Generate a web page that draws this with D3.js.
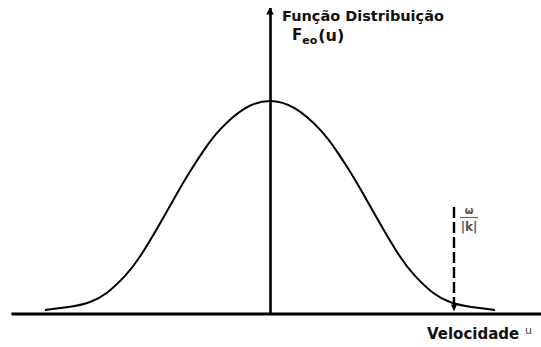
<!DOCTYPE html>
<html>
<head>
<meta charset="utf-8">
<script src="https://cdn.jsdelivr.net/npm/d3@7"></script>
<style>
  html, body { margin: 0; padding: 0; background: #fff; }
  svg { display: block; }
  text { font-family: "DejaVu Sans", sans-serif; }
</style>
</head>
<body>
<svg id="chart" width="541" height="347"></svg>
<script>
// Equilibrium velocity distribution F_eo(u): velocity u (arbitrary units) and F (normalised to peak = 1)
const velocity = [-2.25, -1.97, -1.80, -1.63, -1.45, -1.30, -1.10, -0.95, -0.80, -0.66, -0.50, -0.25, 0,
                  0.25, 0.50, 0.66, 0.80, 0.95, 1.10, 1.30, 1.45, 1.63, 1.80, 1.97, 2.25];
const density  = [0.016, 0.034, 0.054, 0.098, 0.177, 0.268, 0.424, 0.548, 0.668, 0.769, 0.865, 0.965, 1.000,
                  0.965, 0.865, 0.769, 0.668, 0.548, 0.424, 0.268, 0.177, 0.098, 0.054, 0.034, 0.016];
// Phase velocity ω/|k| marked on the velocity axis
const phaseVelocity = 1.84;
// Axis titles
const yTitle = "Função Distribuição";
const xTitle = "Velocidade";

const svg = d3.select("#chart");

const x = d3.scaleLinear().domain([-2.59, 2.71]).range([11, 541]);
const y = d3.scaleLinear().domain([0, 1.44]).range([313.5, 7.5]);

// Horizontal (velocity) axis
const xAxis = svg.append("g")
  .attr("transform", `translate(0,${y(0)})`)
  .call(d3.axisBottom(x).ticks(0).tickSizeOuter(0));
xAxis.select(".domain").attr("stroke", "#000").attr("stroke-width", 3);

// Vertical (distribution) axis through u = 0, with arrow at the top
const yAxis = svg.append("g")
  .attr("transform", `translate(${x(0)},0)`)
  .call(d3.axisLeft(y).ticks(0).tickSizeOuter(0));
yAxis.select(".domain").attr("stroke", "#000").attr("stroke-width", 2.6);

const x0 = x(0), yTop = y(1.44);
svg.append("path")
  .attr("d", `M${x0},${yTop} L${x0 - 3.8},${yTop + 7} L${x0 + 3.8},${yTop + 7} Z`)
  .attr("fill", "#000");

// Distribution curve
const line = d3.line()
  .x((d, i) => x(velocity[i]))
  .y(d => y(d))
  .curve(d3.curveNatural);

svg.append("path")
  .datum(density)
  .attr("d", line)
  .attr("fill", "none")
  .attr("stroke", "#000")
  .attr("stroke-width", 2);

// Dashed marker at the phase velocity, arrow pointing down onto the axis
const xp = x(phaseVelocity);
const yMarkTop = 207;
const yMarkBot = y(0) - 2;
svg.append("line")
  .attr("x1", xp).attr("x2", xp)
  .attr("y1", yMarkTop).attr("y2", yMarkBot - 5)
  .attr("stroke", "#000")
  .attr("stroke-width", 2.4)
  .attr("stroke-dasharray", "11,4");
svg.append("path")
  .attr("d", `M${xp},${yMarkBot} L${xp - 3},${yMarkBot - 7} L${xp + 3},${yMarkBot - 7} Z`)
  .attr("fill", "#000");

// ω / |k| label
svg.append("text")
  .attr("x", xp + 15).attr("y", 214)
  .attr("text-anchor", "middle")
  .attr("font-size", 10).attr("font-weight", "bold").attr("fill", "#555")
  .text("ω");
svg.append("line")
  .attr("x1", xp + 6).attr("x2", xp + 24)
  .attr("y1", 217.5).attr("y2", 217.5)
  .attr("stroke", "#666").attr("stroke-width", 1.2);
svg.append("text")
  .attr("x", xp + 15).attr("y", 231)
  .attr("text-anchor", "middle")
  .attr("font-size", 12).attr("font-weight", "bold").attr("fill", "#555")
  .text("|k|");

// Vertical axis title and symbol F_eo(u)
svg.append("text")
  .attr("x", 282).attr("y", 21)
  .attr("font-size", 14.5).attr("font-weight", "bold").attr("fill", "#111")
  .text(yTitle);

const sym = svg.append("text")
  .attr("x", 292).attr("y", 40)
  .attr("fill", "#111");
sym.append("tspan").attr("font-size", 15).attr("font-weight", 600).text("F");
sym.append("tspan").attr("font-size", 11).attr("font-weight", "bold").attr("dy", 4).text("eo");
sym.append("tspan").attr("font-size", 16).attr("font-weight", 600).attr("dy", -3).attr("dx", 1).text("(u)");

// Horizontal axis title and symbol
svg.append("text")
  .attr("x", 427).attr("y", 339)
  .attr("font-size", 15).attr("font-weight", "bold").attr("fill", "#111")
  .text(xTitle);
svg.append("text")
  .attr("x", 525).attr("y", 333.5)
  .attr("font-size", 11).attr("fill", "#444")
  .text("u");
</script>
</body>
</html>
